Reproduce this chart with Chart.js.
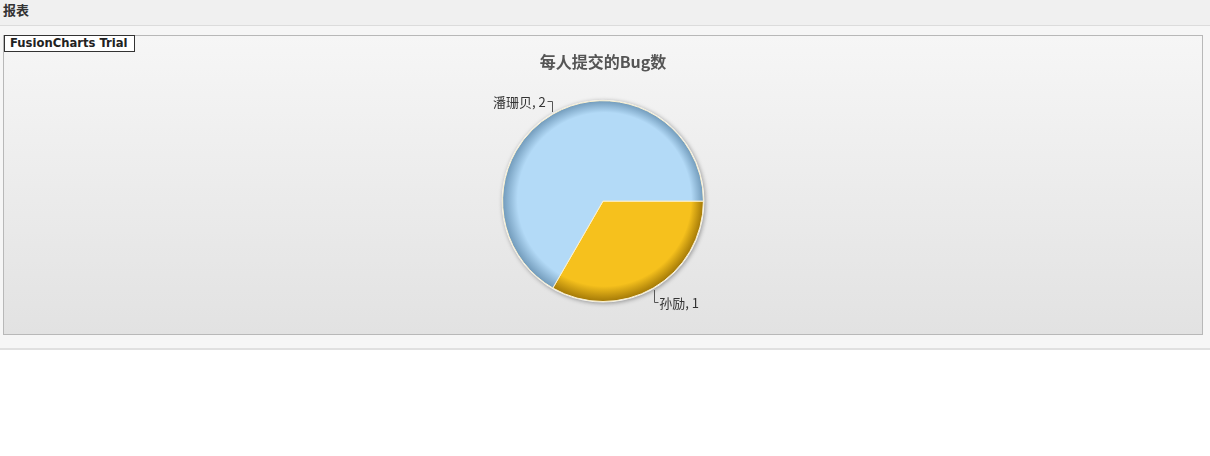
<!DOCTYPE html>
<html><head><meta charset="utf-8">
<script src="https://cdn.jsdelivr.net/npm/chart.js@4"></script>
<style>
html,body{margin:0;padding:0;background:#fff;width:1210px;height:456px;overflow:hidden;}
#hdr{position:absolute;left:0;top:0;width:1210px;height:26px;background:#f0f0f0;border-bottom:1px solid #dcdcdc;box-sizing:border-box;}
#hdr span{position:absolute;left:3px;top:0px;font:bold 13px "Noto Sans CJK SC",sans-serif;color:#333;}
#band{position:absolute;left:0;top:26px;width:1210px;height:323px;background:#f6f6f6;}
#box{position:absolute;left:3px;top:35px;width:1200px;height:300px;box-sizing:border-box;border:1px solid #b8b8b8;background:linear-gradient(#f6f6f6,#e2e2e2);}
#trial{position:absolute;left:4px;top:35px;width:131px;height:17px;box-sizing:border-box;border:1px solid #333;background:#fff;font:bold 11.6px "DejaVu Sans",sans-serif;color:#222;padding-left:5px;line-height:15px;z-index:2;}
#sep{position:absolute;left:0;top:348px;width:1210px;height:2px;background:#e0e0e0;}
#cv{position:absolute;left:4px;top:36px;}
</style></head>
<body>
<div id="hdr"><span>报表</span></div>
<div id="band"></div>
<div id="box"></div>
<div id="trial">FusionCharts Trial</div>
<div id="sep"></div>
<canvas id="cv" width="1198" height="298"></canvas>
<script>
const categories = ['孙励', '潘珊贝'];
const values = [1, 2];
const baseColors = ['#f6c11d', '#b3daf7'];
const rimColors = ['#a07606', '#6f98b8'];
const chartTitle = '每人提交的Bug数';

const shadowPlugin = {
  id: 'shadow',
  beforeDatasetsDraw(chart) {
    const meta = chart.getDatasetMeta(0);
    const a = meta.data[0];
    const ctx = chart.ctx;
    ctx.save();
    ctx.beginPath();
    ctx.arc(a.x, a.y, a.outerRadius + 1, 0, Math.PI * 2);
    ctx.shadowColor = 'rgba(0,0,0,0.35)';
    ctx.shadowBlur = 4;
    ctx.shadowOffsetX = 1;
    ctx.shadowOffsetY = 1;
    ctx.fillStyle = '#f4f4f4';
    ctx.fill();
    ctx.restore();
  }
};
const labelPlugin = {
  id: 'lbls',
  afterDatasetsDraw(chart) {
    const meta = chart.getDatasetMeta(0);
    const ctx = chart.ctx;
    ctx.save();
    ctx.font = '13px "Noto Sans CJK SC", sans-serif';
    ctx.fillStyle = '#333';
    ctx.strokeStyle = '#555';
    ctx.lineWidth = 1;
    ctx.textBaseline = 'middle';
    meta.data.forEach((arc, i) => {
      const mid = (arc.startAngle + arc.endAngle) / 2;
      const r = arc.outerRadius + 2;
      const px = arc.x + Math.cos(mid) * r;
      const py = arc.y + Math.sin(mid) * r;
      const up = Math.sin(mid) < 0;
      const right = Math.cos(mid) >= 0;
      const vy = up ? py - 11 : py + 12;
      const hx = right ? px + 4 : px - 5;
      ctx.beginPath();
      ctx.moveTo(Math.round(px) + 0.5, Math.round(py));
      ctx.lineTo(Math.round(px) + 0.5, Math.round(vy) + 0.5);
      ctx.lineTo(Math.round(hx) + 0.5, Math.round(vy) + 0.5);
      ctx.stroke();
      const txt = categories[i] + ', ' + values[i];
      ctx.textAlign = right ? 'left' : 'right';
      ctx.fillText(txt, right ? hx + 1 : hx - 1, vy + 1);
    });
    ctx.restore();
  }
};

function grad(ctx, i) {
  const chart = ctx.chart;
  const ca = chart.chartArea;
  if (!ca) return baseColors[i];
  const cx = (ca.left + ca.right) / 2;
  const cy = (ca.top + ca.bottom) / 2;
  const R = Math.min(ca.right - ca.left, ca.bottom - ca.top) / 2;
  const g = chart.ctx.createRadialGradient(cx + R * 0.1, cy - R * 0.12, 0, cx, cy, R);
  g.addColorStop(0, baseColors[i]);
  g.addColorStop(0.86, baseColors[i]);
  g.addColorStop(1, rimColors[i]);
  return g;
}

new Chart(document.getElementById('cv'), {
  type: 'pie',
  data: {
    labels: categories,
    datasets: [{
      data: values,
      backgroundColor: (c) => grad(c, c.dataIndex),
      borderColor: '#fbf1d0',
      borderWidth: 1,
      hoverOffset: 0
    }]
  },
  options: {
    responsive: false,
    animation: false,
    rotation: 90,
    layout: { padding: { top: 0, bottom: 32 } },
    plugins: {
      legend: { display: false },
      tooltip: { enabled: false },
      title: {
        display: true,
        text: chartTitle,
        color: '#555',
        font: { family: '"Noto Sans CJK SC", sans-serif', size: 16, weight: 'bold' },
        padding: { top: 16, bottom: 29 }
      }
    }
  },
  plugins: [shadowPlugin, labelPlugin]
});
</script>
</body></html>
